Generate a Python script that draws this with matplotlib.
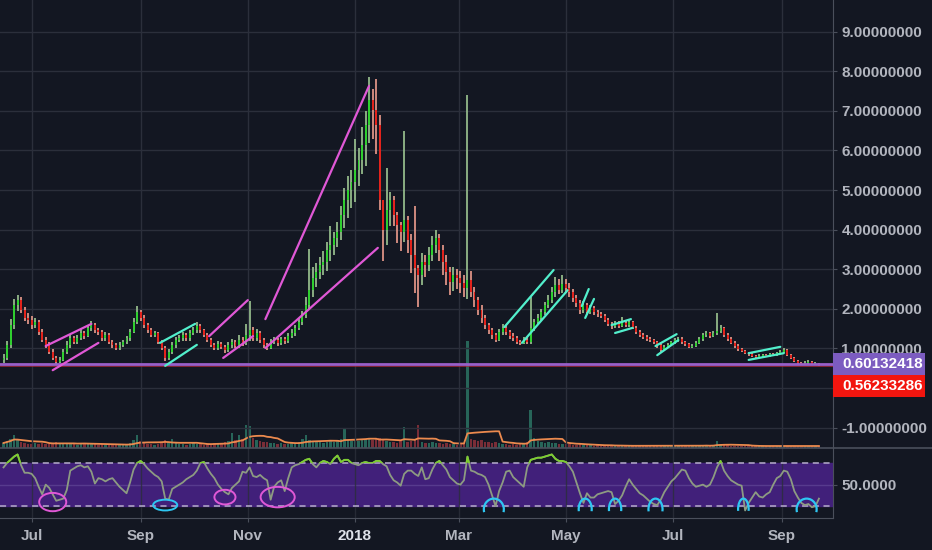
import matplotlib
matplotlib.use('Agg')
import numpy as np
import pandas as pd
import matplotlib.pyplot as plt
import matplotlib.dates as mdates
from matplotlib.patches import Rectangle, Ellipse, Arc
from matplotlib.lines import Line2D
from matplotlib.ticker import FuncFormatter
from matplotlib.transforms import blended_transform_factory

plt.rcParams['font.family'] = ['Liberation Sans', 'DejaVu Sans']

# 2-day candles (price in USD)
opens = [
    0.70, 0.76, 1.09, 1.59, 2.10, 2.22, 1.97, 1.77, 1.72, 1.59,
    1.67, 1.41, 1.21, 1.09, 0.91, 0.76, 0.66, 0.71, 0.91, 1.09,
    1.26, 1.16, 1.26, 1.39, 1.31, 1.52, 1.59, 1.46, 1.41, 1.26,
    1.34, 1.16, 1.09, 1.01, 1.09, 1.16, 1.26, 1.41, 1.67, 1.92,
    1.77, 1.59, 1.46, 1.34, 1.39, 1.16, 1.01, 0.76, 0.91, 1.09,
    1.21, 1.26, 1.34, 1.26, 1.39, 1.46, 1.57, 1.46, 1.34, 1.21,
    1.09, 1.01, 1.11, 1.04, 0.96, 1.09, 1.16, 1.06, 1.21, 1.14,
    1.34, 1.46, 1.26, 1.39, 1.21, 1.09, 1.01, 1.16, 1.21, 1.14,
    1.24, 1.19, 1.31, 1.39, 1.52, 1.67, 1.84, 2.10, 2.47, 2.78,
    2.93, 3.11, 3.18, 3.48, 3.61, 3.79, 3.94, 4.37, 4.75, 5.00,
    5.20, 5.51, 5.76, 6.14, 6.64, 7.27, 7.02, 6.64, 4.75, 3.99,
    4.49, 4.75, 4.37, 4.12, 3.94, 4.24, 3.74, 3.36, 3.03, 2.85,
    3.18, 3.11, 3.36, 3.61, 3.79, 3.48, 3.18, 2.93, 2.68, 2.85,
    2.78, 2.65, 2.53, 2.73, 2.42, 2.22, 1.97, 1.77, 1.59, 1.46,
    1.34, 1.21, 1.41, 1.52, 1.41, 1.31, 1.26, 1.16, 1.14, 1.21,
    1.16, 1.52, 1.67, 1.77, 1.92, 2.10, 2.22, 2.42, 2.60, 2.47,
    2.63, 2.53, 2.42, 2.27, 2.15, 1.97, 2.10, 1.92, 2.02, 1.92,
    1.87, 1.82, 1.72, 1.62, 1.57, 1.62, 1.57, 1.64, 1.59, 1.67,
    1.52, 1.41, 1.34, 1.29, 1.24, 1.21, 1.16, 1.09, 0.96, 1.04,
    1.09, 1.16, 1.21, 1.24, 1.16, 1.11, 1.04, 1.06, 1.14, 1.24,
    1.34, 1.39, 1.31, 1.39, 1.44, 1.52, 1.34, 1.24, 1.14, 1.06,
    0.98, 0.93, 0.88, 0.86, 0.81, 0.78, 0.81, 0.83, 0.81, 0.86,
    0.83, 0.88, 0.91, 0.96, 0.83, 0.76, 0.68, 0.63, 0.61, 0.63,
    0.66, 0.61, 0.61,
]
closes = [
    0.76, 1.09, 1.59, 2.10, 2.22, 1.97, 1.77, 1.72, 1.59, 1.67,
    1.41, 1.21, 1.09, 0.91, 0.76, 0.66, 0.71, 0.91, 1.09, 1.26,
    1.16, 1.26, 1.39, 1.31, 1.52, 1.59, 1.46, 1.41, 1.26, 1.34,
    1.16, 1.09, 1.01, 1.09, 1.16, 1.26, 1.41, 1.67, 1.92, 1.77,
    1.59, 1.46, 1.34, 1.39, 1.16, 1.01, 0.76, 0.91, 1.09, 1.21,
    1.26, 1.34, 1.26, 1.39, 1.46, 1.57, 1.46, 1.34, 1.21, 1.09,
    1.01, 1.11, 1.04, 0.96, 1.09, 1.16, 1.06, 1.21, 1.14, 1.34,
    1.46, 1.26, 1.39, 1.21, 1.09, 1.01, 1.16, 1.21, 1.14, 1.24,
    1.19, 1.31, 1.39, 1.52, 1.67, 1.84, 2.10, 2.47, 2.78, 2.93,
    3.11, 3.18, 3.48, 3.61, 3.79, 3.94, 4.37, 4.75, 5.00, 5.20,
    5.51, 5.76, 6.14, 6.64, 7.27, 7.02, 6.64, 4.75, 3.99, 4.49,
    4.75, 4.37, 4.12, 3.94, 4.24, 3.74, 3.36, 3.03, 2.85, 3.18,
    3.11, 3.36, 3.61, 3.79, 3.48, 3.18, 2.93, 2.68, 2.85, 2.78,
    2.65, 2.53, 2.73, 2.42, 2.22, 1.97, 1.77, 1.59, 1.46, 1.34,
    1.21, 1.41, 1.52, 1.41, 1.31, 1.26, 1.16, 1.14, 1.21, 1.16,
    1.52, 1.67, 1.77, 1.92, 2.10, 2.22, 2.42, 2.60, 2.47, 2.63,
    2.53, 2.42, 2.27, 2.15, 1.97, 2.10, 1.92, 2.02, 1.92, 1.87,
    1.82, 1.72, 1.62, 1.57, 1.62, 1.57, 1.64, 1.59, 1.67, 1.52,
    1.41, 1.34, 1.29, 1.24, 1.21, 1.16, 1.09, 0.96, 1.04, 1.09,
    1.16, 1.21, 1.24, 1.16, 1.11, 1.04, 1.06, 1.14, 1.24, 1.34,
    1.39, 1.31, 1.39, 1.44, 1.52, 1.34, 1.24, 1.14, 1.06, 0.98,
    0.93, 0.88, 0.86, 0.81, 0.78, 0.81, 0.83, 0.81, 0.86, 0.83,
    0.88, 0.91, 0.96, 0.83, 0.76, 0.68, 0.63, 0.61, 0.63, 0.66,
    0.61, 0.61, 0.562,
]
highs = [
    0.85, 1.20, 1.75, 2.25, 2.36, 2.30, 2.05, 1.90, 1.82, 1.78,
    1.72, 1.48, 1.30, 1.15, 0.98, 0.82, 0.78, 0.98, 1.18, 1.35,
    1.32, 1.33, 1.48, 1.45, 1.60, 1.68, 1.65, 1.52, 1.46, 1.42,
    1.40, 1.22, 1.14, 1.15, 1.22, 1.32, 1.48, 1.78, 2.07, 1.98,
    1.85, 1.65, 1.52, 1.45, 1.42, 1.22, 1.06, 0.98, 1.15, 1.28,
    1.33, 1.42, 1.38, 1.46, 1.53, 1.66, 1.62, 1.50, 1.38, 1.26,
    1.14, 1.18, 1.16, 1.08, 1.15, 1.25, 1.22, 1.35, 1.28, 1.62,
    2.20, 1.55, 1.50, 1.45, 1.26, 1.14, 1.24, 1.30, 1.26, 1.30,
    1.30, 1.38, 1.48, 1.60, 1.76, 1.95, 2.30, 3.50, 3.05, 3.15,
    3.30, 3.45, 3.70, 4.10, 3.95, 4.20, 4.60, 5.05, 5.35, 5.50,
    6.30, 6.05, 6.60, 7.00, 7.85, 7.55, 7.80, 6.90, 4.60, 5.55,
    4.95, 4.85, 4.45, 4.20, 6.50, 4.35, 3.90, 4.60, 3.10, 3.40,
    3.35, 3.55, 3.85, 4.00, 3.90, 3.60, 3.35, 3.05, 3.05, 3.00,
    2.95, 2.85, 7.40, 2.95, 2.55, 2.30, 2.10, 1.85, 1.65, 1.52,
    1.40, 1.50, 1.62, 1.58, 1.46, 1.38, 1.32, 1.22, 1.28, 1.28,
    2.30, 1.75, 1.86, 2.00, 2.18, 2.35, 2.55, 2.80, 2.75, 2.85,
    2.75, 2.65, 2.50, 2.35, 2.22, 2.20, 2.15, 2.10, 2.08, 1.98,
    1.92, 1.86, 1.76, 1.66, 1.68, 1.68, 1.80, 1.70, 1.72, 1.70,
    1.56, 1.46, 1.38, 1.33, 1.28, 1.25, 1.20, 1.12, 1.08, 1.14,
    1.20, 1.26, 1.30, 1.28, 1.20, 1.14, 1.10, 1.18, 1.28, 1.40,
    1.45, 1.42, 1.44, 1.90, 1.58, 1.55, 1.38, 1.28, 1.18, 1.10,
    1.02, 0.96, 0.92, 0.89, 0.84, 0.85, 0.87, 0.87, 0.89, 0.89,
    0.92, 0.95, 1.00, 0.98, 0.85, 0.78, 0.70, 0.66, 0.67, 0.70,
    0.68, 0.65, 0.63,
]
lows = [
    0.62, 0.72, 1.02, 1.50, 1.95, 1.90, 1.70, 1.62, 1.50, 1.52,
    1.35, 1.15, 1.00, 0.85, 0.70, 0.60, 0.62, 0.68, 0.86, 1.02,
    1.10, 1.10, 1.22, 1.25, 1.28, 1.45, 1.40, 1.34, 1.20, 1.20,
    1.10, 1.02, 0.95, 0.96, 1.04, 1.10, 1.20, 1.38, 1.62, 1.70,
    1.52, 1.40, 1.28, 1.28, 1.10, 0.95, 0.68, 0.70, 0.86, 1.02,
    1.15, 1.20, 1.20, 1.20, 1.33, 1.40, 1.40, 1.28, 1.15, 1.03,
    0.95, 0.96, 0.98, 0.88, 0.92, 1.02, 1.00, 1.02, 1.06, 1.08,
    1.20, 1.18, 1.20, 1.14, 1.02, 0.95, 0.98, 1.10, 1.06, 1.08,
    1.12, 1.14, 1.26, 1.32, 1.46, 1.60, 1.78, 2.00, 2.30, 2.55,
    2.75, 2.85, 2.95, 3.20, 3.35, 3.55, 3.75, 4.05, 4.30, 4.55,
    4.70, 5.10, 5.40, 5.60, 6.20, 6.30, 5.90, 4.50, 3.20, 3.60,
    4.10, 4.10, 3.65, 3.45, 3.70, 3.40, 2.90, 2.40, 2.05, 2.60,
    2.80, 2.95, 3.20, 3.40, 3.20, 2.85, 2.60, 2.35, 2.45, 2.50,
    2.40, 2.30, 2.25, 2.30, 2.05, 1.85, 1.65, 1.48, 1.36, 1.25,
    1.15, 1.18, 1.35, 1.34, 1.25, 1.20, 1.10, 1.08, 1.10, 1.10,
    1.12, 1.45, 1.60, 1.70, 1.85, 2.02, 2.15, 2.30, 2.38, 2.40,
    2.40, 2.30, 2.18, 2.05, 1.88, 1.90, 1.84, 1.86, 1.85, 1.80,
    1.76, 1.66, 1.56, 1.50, 1.52, 1.52, 1.54, 1.54, 1.55, 1.48,
    1.36, 1.30, 1.24, 1.20, 1.16, 1.12, 1.02, 0.92, 0.94, 1.00,
    1.05, 1.12, 1.17, 1.12, 1.06, 1.00, 1.01, 1.04, 1.12, 1.20,
    1.30, 1.26, 1.28, 1.34, 1.40, 1.30, 1.20, 1.10, 1.02, 0.94,
    0.90, 0.85, 0.82, 0.78, 0.75, 0.76, 0.79, 0.78, 0.79, 0.80,
    0.81, 0.85, 0.88, 0.80, 0.73, 0.66, 0.61, 0.58, 0.59, 0.60,
    0.58, 0.57, 0.55,
]
volume = [
    0.5, 0.7, 0.9, 1.3, 0.8, 0.6, 0.5, 0.4, 0.4, 0.5,
    0.4, 0.5, 0.4, 0.4, 0.5, 0.6, 0.5, 0.4, 0.5, 0.4,
    0.4, 0.3, 0.5, 0.4, 0.4, 0.5, 0.4, 0.3, 0.4, 0.3,
    0.3, 0.3, 0.4, 0.3, 0.3, 0.4, 0.5, 0.8, 1.3, 0.7,
    0.5, 0.4, 0.4, 0.3, 0.4, 0.5, 0.8, 0.6, 0.9, 0.5,
    0.4, 0.4, 0.3, 0.4, 0.5, 0.4, 0.4, 0.3, 0.4, 0.4,
    0.5, 0.4, 0.5, 0.6, 0.7, 1.5, 0.8, 1.3, 0.9, 2.3,
    2.2, 1.0, 0.8, 0.7, 0.6, 0.6, 0.5, 0.5, 0.4, 0.5,
    0.4, 0.4, 0.5, 0.5, 0.6, 0.9, 1.3, 0.8, 0.7, 0.6,
    0.6, 0.5, 0.6, 0.7, 0.6, 0.8, 0.9, 1.9, 0.8, 0.7,
    0.8, 0.7, 0.8, 0.9, 1.0, 0.8, 0.9, 1.0, 0.9, 0.7,
    0.6, 0.6, 0.5, 0.7, 2.1, 0.6, 0.7, 0.8, 2.3, 0.6,
    0.5, 0.5, 0.6, 0.5, 0.5, 0.4, 0.5, 0.4, 0.4, 0.3,
    0.4, 0.5, 10.7, 0.9, 0.8, 0.7, 0.8, 0.6, 0.6, 0.5,
    0.6, 0.5, 0.4, 0.4, 0.3, 0.4, 0.3, 0.4, 0.5, 0.6,
    3.8, 1.0, 0.7, 0.6, 0.5, 0.6, 0.5, 0.5, 0.4, 0.4,
    0.4, 0.4, 0.3, 0.3, 0.4, 0.3, 0.3, 0.3, 0.2, 0.3,
    0.2, 0.2, 0.3, 0.2, 0.2, 0.3, 0.2, 0.2, 0.2, 0.2,
    0.2, 0.2, 0.2, 0.3, 0.2, 0.2, 0.2, 0.3, 0.2, 0.2,
    0.2, 0.3, 0.2, 0.2, 0.2, 0.2, 0.2, 0.2, 0.3, 0.3,
    0.3, 0.2, 0.3, 0.7, 0.4, 0.3, 0.3, 0.2, 0.2, 0.2,
    0.2, 0.2, 0.2, 0.2, 0.2, 0.2, 0.2, 0.2, 0.2, 0.2,
    0.2, 0.2, 0.2, 0.2, 0.2, 0.2, 0.2, 0.2, 0.2, 0.2,
    0.2, 0.2, 0.2,
]
rsi = [
    66, 70, 73, 76, 78, 68, 61, 61, 60, 56,
    48, 41, 50, 47, 41, 35, 36, 37, 45, 63,
    65, 67, 68, 66, 67, 62, 51, 56, 55, 53,
    55, 56, 52, 48, 45, 42, 52, 64, 70, 72,
    69, 65, 62, 59, 57, 53, 37, 36, 46, 48,
    50, 52, 55, 57, 59, 63, 70, 71, 65, 60,
    56, 50, 46, 43, 41, 47, 50, 53, 62, 61,
    66, 58, 57, 59, 56, 54, 36, 48, 52, 54,
    44, 56, 66, 68, 69, 71, 73, 74, 69, 66,
    70, 72, 71, 69, 74, 77, 71, 73, 73, 70,
    69, 68, 70, 71, 70, 70, 72, 72, 69, 67,
    59, 54, 52, 49, 60, 63, 63, 60, 58, 66,
    55, 56, 64, 70, 72, 68, 64, 57, 54, 51,
    50, 54, 76, 63, 62, 60, 59, 57, 50, 40,
    30, 44, 52, 62, 63, 57, 54, 51, 48, 66,
    73, 74, 75, 75, 76, 77, 78, 74, 72, 72,
    71, 67, 62, 52, 42, 33, 42, 38, 38, 41,
    42, 43, 44, 43, 32, 35, 40, 48, 55, 50,
    46, 42, 40, 37, 34, 32, 31, 36, 43, 48,
    53, 56, 60, 64, 63, 56, 51, 48, 49, 50,
    48, 50, 57, 66, 72, 63, 58, 54, 52, 50,
    49, 26, 33, 38, 43, 39, 38, 41, 43, 50,
    56, 58, 63, 62, 55, 44, 38, 33, 31, 32,
    29, 30, 37,
]

last_price = 0.60132418
close_price = 0.56233286

month_ticks = ['2017-07-01', '2017-09-01', '2017-11-01', '2018-01-01',
               '2018-03-01', '2018-05-01', '2018-07-01', '2018-09-01']
month_labels = ['Jul', 'Sep', 'Nov', '2018', 'Mar', 'May', 'Jul', 'Sep']

pink = '#e058d6'
aqua = '#52efcc'
sky = '#2ec6f2'

# drawn trend lines: (start date, start price, end date, end price, colour)
trend_lines = [
    ('2017-07-09', 1.06, '2017-08-04', 1.62, pink),
    ('2017-07-13', 0.45, '2017-08-08', 1.14, pink),
    ('2017-09-12', 1.14, '2017-10-02', 1.62, aqua),
    ('2017-09-15', 0.56, '2017-10-03', 1.09, aqua),
    ('2017-10-10', 1.31, '2017-11-01', 2.22, pink),
    ('2017-10-18', 0.76, '2017-11-04', 1.31, pink),
    ('2017-11-11', 1.74, '2018-01-09', 7.63, pink),
    ('2017-11-11', 1.01, '2018-01-14', 3.54, pink),
    ('2018-03-27', 1.54, '2018-04-24', 2.98, aqua),
    ('2018-04-06', 1.14, '2018-05-02', 2.47, aqua),
    ('2018-05-10', 2.07, '2018-05-14', 2.50, aqua),
    ('2018-05-12', 1.77, '2018-05-17', 2.25, aqua),
    ('2018-05-27', 1.59, '2018-06-07', 1.74, aqua),
    ('2018-05-29', 1.39, '2018-06-08', 1.52, aqua),
    ('2018-06-21', 1.06, '2018-07-03', 1.36, aqua),
    ('2018-06-22', 0.83, '2018-07-04', 1.21, aqua),
    ('2018-08-13', 0.88, '2018-08-31', 1.04, aqua),
    ('2018-08-13', 0.71, '2018-09-02', 0.88, aqua),
]
# circles on the RSI: (centre date, centre rsi, width days, height rsi, colour)
rsi_circles = [
    ('2017-07-13', 33.8, 15.4, 17.0, pink),
    ('2017-09-15', 31.0, 13.7, 10.0, sky),
    ('2017-10-19', 38.4, 12.0, 13.6, pink),
    ('2017-11-18', 38.4, 19.4, 19.0, pink),
]
# arches on the RSI: (centre date, width days)
rsi_arches = [('2018-03-21', 11.4), ('2018-05-12', 7.4), ('2018-05-29', 7.0),
              ('2018-06-21', 8.0), ('2018-08-10', 6.0), ('2018-09-15', 11.4)]

bg = '#131722'
grid_c = '#2b2f3b'
spine_c = '#4a4f5b'
text_c = '#b2b5be'

dates = pd.date_range('2017-06-15', periods=len(closes), freq='2D')
x = mdates.date2num(dates)
o = np.array(opens)
c = np.array(closes)
h = np.array(highs)
l = np.array(lows)
up = c >= o

W, H = 932, 550
rect_main = [0, 102 / H, 833 / W, 448 / H]
rect_rsi = [0, 32 / H, 833 / W, 70 / H]
xlim = (mdates.datestr2num('2017-06-13'), mdates.datestr2num('2018-09-30'))
tick_x = mdates.datestr2num(month_ticks)

fig = plt.figure(figsize=(W / 100, H / 100), dpi=100, facecolor=bg)
axv = fig.add_axes(rect_main, zorder=0)
ax = fig.add_axes(rect_main, zorder=1)
ar = fig.add_axes(rect_rsi, zorder=1)

# volume underlay
axv.set_facecolor(bg)
vol_colors = np.where(up, '#2a6e60', '#85303a')
axv.bar(x, volume, width=1.4, color=vol_colors, alpha=0.9)
vol_ma = pd.Series(volume).rolling(10, min_periods=1).mean()
axv.plot(x, vol_ma, color='#ec8a4e', lw=1.3)
axv.set_xlim(xlim)
axv.set_ylim(0, 44.8)
axv.axis('off')

# price pane
ax.patch.set_alpha(0)
ax.set_xlim(xlim)
ax.set_ylim(-1.515, 9.8)
ax.set_xticks(tick_x)
ax.set_yticks(range(-1, 10))
ax.grid(True, color=grid_c, lw=1)
ax.set_axisbelow(True)
ax.yaxis.tick_right()
# the zero label sits under the price boxes, so it is left blank
ax.yaxis.set_major_formatter(FuncFormatter(lambda v, p: '' if v == 0 else '%.8f' % v))
ax.tick_params(axis='x', length=0, labelbottom=False)
ax.tick_params(axis='y', length=3, pad=3, colors=spine_c, labelcolor=text_c,
               labelsize=11)
for t in ax.get_yticklabels():
    t.set_fontweight('bold')
for s in ['left', 'top', 'bottom']:
    ax.spines[s].set_visible(False)
ax.spines['right'].set_color(spine_c)

wick_colors = np.where(up, '#93b98a', '#dd9385')
body_colors = np.where(up, '#2fcf2f', '#e3231c')
ax.vlines(x, l, h, colors=wick_colors, lw=1.3, zorder=2)
body_bottom = np.minimum(o, c)
body_h = np.maximum(np.abs(c - o), 0.03)
ax.bar(x, body_h, bottom=body_bottom, width=1.1, color=body_colors, zorder=3)

ax.axhline(close_price, color='#b82a3a', lw=0.6, alpha=0.8, zorder=4)
ax.axhline(last_price, color='#9a5fc9', lw=2.0, zorder=4)

for d0, p0, d1, p1, col in trend_lines:
    ax.plot(mdates.datestr2num([d0, d1]), [p0, p1], color=col, lw=1.6,
            solid_capstyle='round', zorder=5)

# price labels on the scale
tr = blended_transform_factory(ax.transAxes, ax.transData)
box_w = 92 / 833
box_h = 22 / 39.6
for val, yc, col in [(last_price, last_price, '#7c5cc0'),
                     (close_price, last_price - box_h, '#f2150f')]:
    ax.add_patch(Rectangle((1.0, yc - box_h / 2), box_w, box_h, transform=tr,
                           facecolor=col, edgecolor='none', clip_on=False, zorder=6))
    ax.text(1.0 + 9 / 833, yc, '%.8f' % val, transform=tr, ha='left', va='center',
            color='white', fontsize=11, fontweight='bold', clip_on=False, zorder=7)

# RSI pane
ar.set_facecolor(bg)
ar.set_xlim(xlim)
ar.set_ylim(19, 84)
ar.axhspan(30, 70, color='#41207a', zorder=0.3)
ar.axhline(50, color='#573b8e', lw=1, zorder=0.4)
ar.axhline(70, color='#b6aecb', lw=1.1, dashes=(4, 3), zorder=1)
ar.axhline(30, color='#b6aecb', lw=1.1, dashes=(4, 3), zorder=1)
ar.set_xticks(tick_x)
ar.set_xticklabels(month_labels)
ar.grid(True, axis='x', color=grid_c, lw=1, alpha=0.8)
ar.set_axisbelow(True)
ar.set_yticks([50])
ar.yaxis.set_major_formatter(plt.FormatStrFormatter('%.4f'))
ar.yaxis.tick_right()
ar.tick_params(axis='y', length=3, pad=3, colors=spine_c, labelcolor=text_c,
               labelsize=11)
ar.tick_params(axis='x', length=3, pad=5, colors=spine_c, labelcolor=text_c,
               labelsize=11)
for t in ar.get_xticklabels() + ar.get_yticklabels():
    t.set_fontweight('bold')
ar.get_xticklabels()[3].set_color('#dfe2ea')
for s in ['left', 'top']:
    ar.spines[s].set_visible(False)
ar.spines['right'].set_color(spine_c)
ar.spines['bottom'].set_color(spine_c)

ar.plot(x, rsi, color='#8d9b82', lw=1.3, zorder=2)
hi_line, = ar.plot(x, rsi, color='#7ccf2e', lw=1.3, zorder=3)
hi_line.set_clip_path(Rectangle((xlim[0], 70), xlim[1] - xlim[0], 30,
                                transform=ar.transData))

for d, yv, wd, hg, col in rsi_circles:
    ar.add_patch(Ellipse((mdates.datestr2num(d), yv), wd, hg, fill=False,
                         edgecolor=col, lw=1.4, clip_on=False, zorder=4))
for d, wd in rsi_arches:
    ar.add_patch(Arc((mdates.datestr2num(d), 27), wd, 20, theta1=-25, theta2=205,
                     edgecolor=sky, lw=1.6, clip_on=False, zorder=4))

# pane separator across the full width
fig.add_artist(Line2D([0, 1], [102 / H, 102 / H], transform=fig.transFigure,
                      color=spine_c, lw=1.2))

fig.savefig('out.png', dpi=100, facecolor=bg)
